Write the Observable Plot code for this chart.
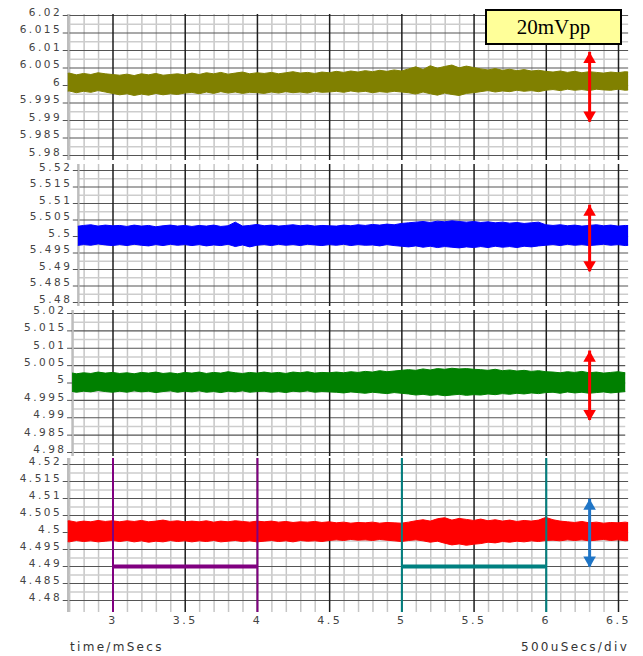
<!DOCTYPE html>
<html><head><meta charset="utf-8">
<script src="https://cdn.jsdelivr.net/npm/d3@7"></script>
<script src="https://cdn.jsdelivr.net/npm/@observablehq/plot@0.6"></script>
<style>
body{margin:0;background:#fff;}
#chart{position:relative;width:643px;height:656px;overflow:hidden;background:#fff;font-family:"DejaVu Sans",sans-serif;}
.panel{position:absolute;left:0;}
#vpp{position:absolute;left:485px;top:9px;width:133px;height:32px;border:2px solid #000;background:#ffff99;font-family:"Liberation Serif",serif;font-size:21px;line-height:32px;text-align:center;color:#000;z-index:5;}
.foot{position:absolute;top:640px;font-size:12px;letter-spacing:2.3px;color:#333;}
</style></head><body><div id="chart"></div>
<script>
// ---- data ----
const xs = [2.65,2.7,2.75,2.8,2.85,2.9,2.95,3,3.05,3.1,3.15,3.2,3.25,3.3,3.35,3.4,3.45,3.5,3.55,3.6,3.65,3.7,3.75,3.8,3.85,3.9,3.95,4,4.05,4.1,4.15,4.2,4.25,4.3,4.35,4.4,4.45,4.5,4.55,4.6,4.65,4.7,4.75,4.8,4.85,4.9,4.95,5,5.05,5.1,5.15,5.2,5.25,5.3,5.35,5.4,5.45,5.5,5.55,5.6,5.65,5.7,5.75,5.8,5.85,5.9,5.95,6,6.05,6.1,6.15,6.2,6.25,6.3,6.35,6.4,6.45,6.5,6.55,6.6];

// envelopes in mV relative to each trace's nominal level
const p1Top = [3.1,3.4,2.9,3.3,3.0,3.5,3.2,3.0, 2.8,3.1,2.7,3.2,2.9,3.3,2.8,3.0,3.2,2.9, 3.4,3.0,3.5,3.2,3.6,3.1,3.4,3.7,3.2,3.5, 3.3,3.6,3.2,3.5,3.8,3.4,3.6,3.3,3.7,3.5, 3.9,3.6,4.0,3.7,4.1,3.8,4.2,3.9,4.3,4.0, 4.6,5.2,4.4,5.5,4.8,5.3,5.7,4.9,5.4,5.0, 4.6,4.3,4.7,4.2,4.5,4.1,4.4,4.0,4.2,3.9, 3.7,4.0,3.6,3.9,3.5,3.8,3.6,3.4,3.7,3.5,3.8,3.6];
const p1Bot = [-2.0,-1.7,-2.2,-1.8,-2.1,-1.6,-2.0,-2.4, -2.8,-2.5,-3.0,-2.6,-2.9,-2.4,-2.8,-2.5,-2.7,-2.3, -2.1,-2.5,-2.0,-2.4,-1.9,-2.3,-2.0,-2.4,-2.1,-2.2, -2.4,-2.0,-2.3,-1.9,-2.2,-2.0,-2.3,-1.8,-2.1,-2.0, -1.8,-2.1,-1.7,-2.0,-1.8,-2.2,-1.9,-2.1,-1.8,-2.0, -2.2,-2.6,-2.0,-2.5,-2.9,-2.3,-2.7,-3.0,-2.4,-2.2, -1.9,-1.6,-2.0,-1.7,-1.9,-1.5,-1.8,-1.6,-1.9,-1.5, -1.3,-1.6,-1.2,-1.5,-1.3,-1.6,-1.2,-1.4,-1.5,-1.2,-1.5,-1.3];
const p2Top = [3.0,3.3,2.9,3.2,3.4,3.0,3.3,3.1, 3.2,2.9,3.3,3.0,3.2,2.8,3.1,3.3,3.0,3.2, 2.9,3.2,3.0,3.3,2.9,3.1,4.2,3.0,3.2,3.5, 3.1,3.3,3.0,3.2,3.4,3.1,3.3,3.0,3.2,3.1, 3.0,3.3,3.1,3.4,3.2,3.5,3.3,3.6,3.4,3.8, 4.0,4.2,4.4,4.1,4.5,4.3,4.6,4.4,4.2,4.4, 4.1,4.3,4.0,4.2,3.9,4.1,3.8,4.0,4.2,3.4, 3.2,3.4,3.1,3.3,3.0,3.2,3.4,3.1,3.3,3.0,3.2,3.1];
const p2Bot = [-2.8,-2.5,-2.9,-2.6,-2.8,-2.4,-2.7,-2.9, -2.6,-2.9,-2.5,-2.8,-3.0,-2.6,-2.9,-2.5,-2.8,-2.6, -2.9,-2.6,-3.0,-2.7,-2.9,-2.5,-3.2,-2.7,-3.3,-2.8, -2.6,-2.9,-2.5,-2.8,-2.6,-2.9,-2.5,-2.7,-2.9,-2.6, -2.8,-2.5,-2.9,-2.6,-2.8,-2.7,-3.0,-2.6,-2.9,-3.1, -3.3,-3.0,-3.4,-3.1,-3.5,-3.2,-3.4,-3.6,-3.3,-3.5, -3.2,-3.5,-3.1,-3.4,-3.2,-3.5,-3.1,-3.3,-3.0,-2.8, -2.6,-2.9,-2.5,-2.8,-2.6,-2.9,-2.7,-2.5,-2.8,-2.6,-2.9,-2.7];
const p3Top = [2.6,2.9,2.5,2.8,2.6,3.0,2.7,2.9, 2.6,2.8,2.5,2.9,2.7,3.0,2.6,2.8,2.5,2.9, 2.7,3.0,2.6,2.9,2.7,3.1,2.8,2.6,2.9,2.7, 3.0,2.7,2.9,2.6,3.0,2.8,3.1,2.7,2.9,2.8, 3.0,2.8,3.1,2.9,3.2,3.0,3.4,3.1,3.3,3.5, 3.7,3.5,3.9,3.6,4.0,3.8,4.1,3.9,4.0,3.8, 3.7,3.5,3.8,3.4,3.6,3.3,3.5,3.2,3.4,3.1, 3.0,2.8,3.1,2.9,3.2,2.8,3.0,2.7,2.9,3.1,2.8,3.0];
const p3Bot = [-2.7,-2.4,-2.8,-2.5,-2.7,-2.3,-2.6,-2.8, -2.5,-2.8,-2.4,-2.7,-2.5,-2.9,-2.6,-2.4,-2.8,-2.5, -2.7,-2.4,-2.8,-2.6,-2.9,-2.5,-2.7,-2.4,-2.8,-2.6, -2.5,-2.8,-2.6,-2.9,-2.5,-2.7,-2.4,-2.8,-2.6,-2.7, -2.8,-3.0,-2.7,-2.9,-3.1,-2.8,-3.0,-3.2,-2.9,-3.1, -3.3,-3.6,-3.4,-3.7,-3.5,-3.8,-3.6,-3.4,-3.7,-3.5, -3.6,-3.3,-3.5,-3.2,-3.4,-3.1,-3.3,-3.0,-3.2,-2.9, -2.8,-3.1,-2.7,-3.0,-2.8,-3.1,-2.9,-2.7,-3.0,-2.8,-2.6,-2.9];
const p4Top = [3.0,3.3,2.9,3.2,3.0,3.4,3.1,3.3, 3.0,3.3,3.1,3.4,3.0,3.2,3.5,3.1,3.3,3.0, 3.2,3.0,3.3,2.9,3.2,3.0,3.3,3.1,2.9,3.2, 3.0,3.2,2.9,3.1,2.8,3.0,2.9,3.1,2.8,3.0, 2.7,2.9,2.6,2.8,2.7,2.9,2.6,2.8,2.7,2.6, 2.9,3.3,3.6,3.2,3.9,4.2,3.5,4.0,3.7,3.4, 3.8,3.3,3.6,3.2,3.5,3.1,3.4,3.2,3.5,4.3, 3.6,3.2,3.0,2.8,3.1,2.7,2.9,2.6,2.8,2.7,2.9,2.6];
const p4Bot = [-2.6,-2.9,-2.5,-2.8,-2.6,-2.9,-2.7,-2.5, -2.8,-2.5,-2.9,-2.6,-3.0,-2.7,-2.9,-2.5,-2.8,-2.6, -2.9,-2.6,-2.8,-2.5,-2.9,-2.7,-2.5,-2.8,-2.6,-2.9, -2.7,-2.5,-2.8,-2.6,-2.9,-2.5,-2.7,-2.6,-2.8,-2.5, -2.3,-2.5,-2.2,-2.4,-2.3,-2.5,-2.2,-2.4,-2.6,-2.8, -2.5,-2.3,-2.6,-3.0,-2.7,-3.3,-3.8,-3.5,-3.9,-3.6, -3.4,-3.0,-3.2,-2.8,-3.0,-2.7,-2.9,-2.6,-2.8,-2.5, -2.4,-2.6,-2.3,-2.5,-2.3,-2.6,-2.4,-2.2,-2.5,-2.3,-2.6,-2.4];

const centers = [6.0, 5.5, 5.0, 4.5];
const p1Ticks = [5.98,5.985,5.99,5.995,6,6.005,6.01,6.015,6.02];
const p2Ticks = [5.48,5.485,5.49,5.495,5.5,5.505,5.51,5.515,5.52];
const p3Ticks = [4.98,4.985,4.99,4.995,5,5.005,5.01,5.015,5.02];
const p4Ticks = [4.48,4.485,4.49,4.495,4.5,4.505,4.51,4.515,4.52];
const xMajor = [3,3.5,4,4.5,5,5.5,6,6.5];
const xMinor = [2.7,2.8,2.9,3.1,3.2,3.3,3.4,3.6,3.7,3.8,3.9,4.1,4.2,4.3,4.4,4.6,4.7,4.8,4.9,5.1,5.2,5.3,5.4,5.6,5.7,5.8,5.9,6.1,6.2,6.3,6.4];
const xStarts = [2.69, 2.76, 2.72, 2.69];
const xEnds = [6.57, 6.57, 6.55, 6.57];
const traceColors = ["#808000", "#0000ff", "#008000", "#ff0000"];
const arrowX = [6.3, 6.3, 6.3, 6.3];
const arrowHi = [6.0095, 5.5095, 5.0092, 4.5098];
const arrowLo = [5.9895, 5.4893, 4.9892, 4.4898];
const arrowColors = ["#ff0000", "#ff0000", "#ff0000", "#1f75c6"];
const markerStarts = [3, 5];
const markerEnds = [4, 6];
const markerLevel = 4.49;
const markerColors = ["#800080", "#008080"];

// ---- layout (pixels) ----
const layout = [
  {vt: 14, gt: 15, gb: 155, vb: 160},
  {vt: 164, gt: 170, gb: 302, vb: 306},
  {vt: 310, gt: 313, gb: 452, vb: 456},
  {vt: 458, gt: 464, gb: 600, vb: 612}
];
const W = 643;
const xpx = v => 112.5 + (v - 3) * (505.5 / 3.5);
const tops = [p1Top, p2Top, p3Top, p4Top];
const bots = [p1Bot, p2Bot, p3Bot, p4Bot];
const ticksAll = [p1Ticks, p2Ticks, p3Ticks, p4Ticks];

const chart = document.getElementById("chart");

for (let k = 0; k < 4; k++) {
  const L = layout[k];
  const c = centers[k];
  const last = k === 3;
  const H = last ? 656 - L.vt : L.vb - L.vt;
  const mb = last ? 656 - L.vb : 0;
  const ticks = ticksAll[k];
  const minorY = d3.pairs(ticks).map(([a, b]) => (a + b) / 2);
  const xs0 = xStarts[k], xs1 = xEnds[k];
  const rows = xs.map((x, i) => ({x, lo: c + bots[k][i] / 1000, hi: c + tops[k][i] / 1000}));
  const arrow = [{x: arrowX[k], hi: arrowHi[k], lo: arrowLo[k]}];
  const marks = [
    Plot.ruleX(xMinor.filter(v => v > xs0 && v < xs1), {stroke: "#c6c6c6", strokeWidth: 1.5}),
    Plot.ruleY(minorY, {x1: xs0, x2: xs1, stroke: "#cdcdcd", strokeWidth: 1.5}),
    Plot.ruleY(ticks, {x1: xs0, x2: xs1, stroke: "#555", strokeWidth: 1.2}),
    Plot.ruleX(xMajor, {stroke: "#1e1e1e", strokeWidth: 1.5}),
    Plot.ruleX([xs0], {stroke: "#bdbdbd", strokeWidth: 2.5}),
    Plot.areaY(rows, {x: "x", y1: "lo", y2: "hi", fill: traceColors[k], stroke: traceColors[k], strokeWidth: 1, clip: true}),
    Plot.ruleX(arrow, {x: "x", y1: "lo", y2: "hi", stroke: arrowColors[k], strokeWidth: 3}),
    Plot.dot(arrow, {x: "x", y: "hi", symbol: "triangle2", r: 6, fill: arrowColors[k], dy: 7}),
    Plot.dot(arrow, {x: "x", y: "lo", symbol: "triangle2", r: 6, fill: arrowColors[k], rotate: 180, dy: -7}),
    Plot.axisY({ticks, tickFormat: String, tickSize: 5, stroke: "#555", fill: "none", label: null}),
    Plot.axisY({ticks, tickFormat: String, tickSize: 5, tickPadding: 1, stroke: "none", fill: "#444", fontSize: 10.5, dy: -3, label: null})
  ];
  if (last) {
    markerStarts.forEach((s, j) => {
      marks.push(Plot.ruleX([s, markerEnds[j]], {stroke: markerColors[j], strokeWidth: 2}));
      marks.push(Plot.ruleY([markerLevel], {x1: s, x2: markerEnds[j], stroke: markerColors[j], strokeWidth: 4}));
    });
    marks.push(Plot.axisX({ticks: xMajor, tickFormat: String, tickSize: 0, tickPadding: 4, fill: "#444", fontSize: 11, label: null}));
  }
  const svg = Plot.plot({
    width: W,
    height: H,
    marginLeft: xpx(xs0),
    marginRight: W - xpx(xs1),
    marginTop: 0,
    marginBottom: mb,
    x: {domain: [3, 6.5], range: [112.5, 618], axis: last ? undefined : null},
    y: {domain: [c - 0.02, c + 0.02], range: [L.gb - L.vt, L.gt - L.vt]},
    style: {background: "transparent", overflow: "visible", fontFamily: "DejaVu Sans, sans-serif", letterSpacing: "2.5px"},
    marks
  });
  svg.classList.add("panel");
  svg.style.position = "absolute";
  svg.style.top = L.vt + "px";
  svg.style.left = "0px";
  chart.appendChild(svg);
}

const box = document.createElement("div");
box.id = "vpp";
box.textContent = "20mVpp";
chart.appendChild(box);

const f1 = document.createElement("div");
f1.className = "foot"; f1.style.left = "70px"; f1.textContent = "time/mSecs";
chart.appendChild(f1);
const f2 = document.createElement("div");
f2.className = "foot"; f2.style.left = "521px"; f2.textContent = "500uSecs/div";
chart.appendChild(f2);
</script>
</body></html>
